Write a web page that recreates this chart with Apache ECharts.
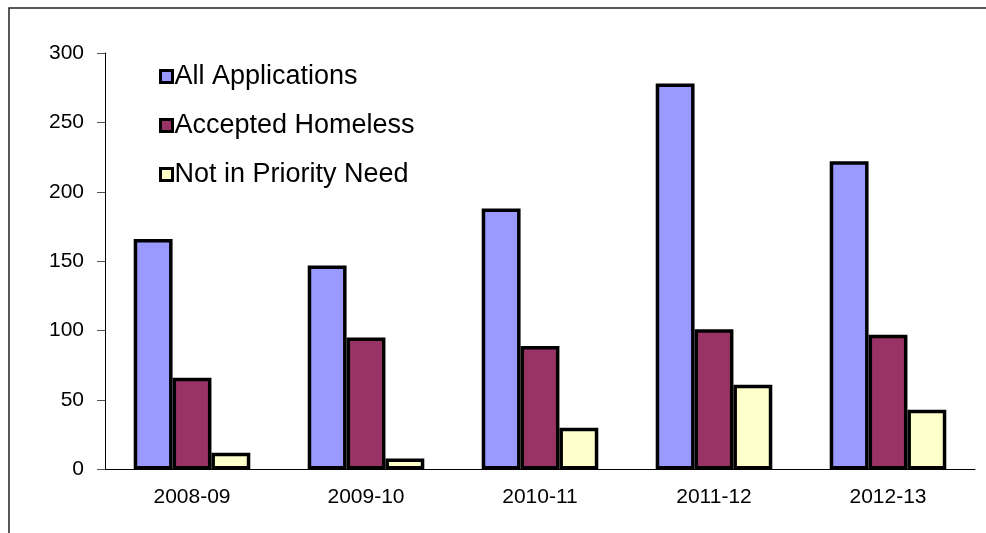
<!DOCTYPE html>
<html>
<head>
<meta charset="utf-8">
<script src="https://cdn.jsdelivr.net/npm/echarts@6/dist/echarts.min.js"></script>
<style>
  html, body { margin: 0; padding: 0; background: #fff; }
  #chart { width: 986px; height: 533px; }
</style>
</head>
<body>
<div id="chart"></div>
<script>
  // values
  var years = ['2008-09', '2009-10', '2010-11', '2011-12', '2012-13'];
  var allApplications = [166, 147, 188, 278, 222];
  var acceptedHomeless = [66, 95, 89, 101, 97];
  var notPriorityNeed = [12, 8, 30, 61, 43];
  var yTicks = [0, 50, 100, 150, 200, 250, 300];

  var chart = echarts.init(document.getElementById('chart'));

  function barSeries(name, data, color) {
    return {
      name: name,
      type: 'bar',
      data: data,
      barGap: '0%',
      barCategoryGap: '33%',
      itemStyle: { color: color, borderColor: '#000', borderWidth: 3.5 }
    };
  }

  chart.setOption({
    animation: false,
    textStyle: { fontFamily: 'Liberation Sans, Arial, sans-serif' },
    graphic: [{
      type: 'rect',
      shape: { x: 9, y: 8, width: 1200, height: 800 },
      style: { fill: 'none', stroke: '#222', lineWidth: 1.5 },
      silent: true
    }],
    legend: {
      orient: 'vertical',
      left: 154,
      top: 58,
      itemWidth: 12,
      itemHeight: 12,
      itemGap: 22,
      icon: 'rect',
      itemStyle: { borderColor: '#000', borderWidth: 3 },
      textStyle: { fontSize: 27, color: '#000', padding: [0, 0, 0, -3] },
      data: ['All Applications', 'Accepted Homeless', 'Not in Priority Need']
    },
    grid: { left: 105, right: 11, top: 53, bottom: 63.5 },
    xAxis: {
      type: 'category',
      data: years,
      axisLine: { lineStyle: { color: '#000', width: 1 } },
      axisTick: { length: 6, lineStyle: { color: '#444' } },
      axisLabel: { fontSize: 21, color: '#000', margin: 17 }
    },
    yAxis: {
      type: 'value',
      min: yTicks[0],
      max: yTicks[yTicks.length - 1],
      interval: yTicks[1] - yTicks[0],
      splitLine: { show: false },
      axisLine: { show: true, lineStyle: { color: '#000', width: 1 } },
      axisTick: { show: true, length: 8, lineStyle: { color: '#555' } },
      axisLabel: { fontSize: 21, color: '#000', margin: 21 }
    },
    series: [
      barSeries('All Applications', allApplications, '#9999FF'),
      barSeries('Accepted Homeless', acceptedHomeless, '#993366'),
      barSeries('Not in Priority Need', notPriorityNeed, '#FFFFCC')
    ]
  });
</script>
</body>
</html>
